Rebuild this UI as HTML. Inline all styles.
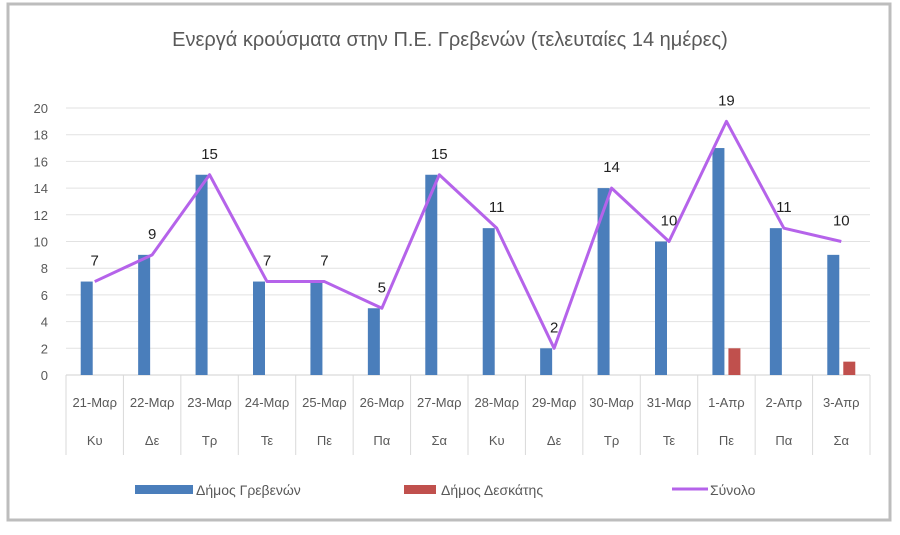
<!DOCTYPE html>
<html><head><meta charset="utf-8"><style>
body{margin:0;background:#fff;width:900px;height:530px;overflow:hidden;font-family:"Liberation Sans","DejaVu Sans",sans-serif}
</style></head><body>
<svg id="c" width="900" height="530" xmlns="http://www.w3.org/2000/svg">
<rect x="8" y="4" width="882" height="516" fill="#fff" stroke="#bdbdbd" stroke-width="3"/>
<text x="450" y="46" text-anchor="middle" font-size="20" fill="#595959">Ενεργά κρούσματα στην Π.Ε. Γρεβενών (τελευταίες 14 ημέρες)</text>
<g id="grid"></g><g id="bars"></g><g id="line"></g><g id="labels"></g><g id="axis"></g>
<g>
<rect x="135" y="485" width="58" height="9" fill="#4a7ebb"/>
<text x="196" y="495" font-size="14" fill="#595959">Δήμος Γρεβενών</text>
<rect x="404" y="485" width="32" height="9" fill="#c0504d"/>
<text x="441" y="495" font-size="14" fill="#595959">Δήμος Δεσκάτης</text>
<line x1="672" y1="489" x2="708" y2="489" stroke="#b563ea" stroke-width="3"/>
<text x="710" y="495" font-size="14" fill="#595959">Σύνολο</text>
</g>
</svg>
<script>
const dates=["21-Μαρ","22-Μαρ","23-Μαρ","24-Μαρ","25-Μαρ","26-Μαρ","27-Μαρ","28-Μαρ","29-Μαρ","30-Μαρ","31-Μαρ","1-Απρ","2-Απρ","3-Απρ"];
const days=["Κυ","Δε","Τρ","Τε","Πε","Πα","Σα","Κυ","Δε","Τρ","Τε","Πε","Πα","Σα"];
const grevena=[7,9,15,7,7,5,15,11,2,14,10,17,11,9];
const deskati=[0,0,0,0,0,0,0,0,0,0,0,2,0,1];
const total=[7,9,15,7,7,5,15,11,2,14,10,19,11,10];
const yTicks=[0,2,4,6,8,10,12,14,16,18,20];
const NS="http://www.w3.org/2000/svg";
const L=66,R=870,T=108,B=375,YMAX=20;
const bw=(R-L)/dates.length;
const y=v=>B-(B-T)*v/YMAX;
const cx=i=>L+bw*(i+0.5);
function mk(tag,attrs,parent,txt){const e=document.createElementNS(NS,tag);for(const k in attrs)e.setAttribute(k,attrs[k]);if(txt!==undefined)e.textContent=txt;document.getElementById(parent).appendChild(e);return e;}
yTicks.forEach(t=>{
  const g=mk('line',{x1:L,x2:R,y1:y(t),y2:y(t),stroke:t===0?'#d0d0d0':'#e2e2e2','stroke-width':1},'grid');
  
  
  const tx=mk('text',{x:L-18,y:y(t)+5,'text-anchor':'end','font-size':13,fill:'#595959'},'axis',t);
  
  
});
for(let i=0;i<=dates.length;i++){
  const s=mk('line',{x1:L+bw*i,x2:L+bw*i,y1:B,y2:455,stroke:'#d9d9d9'},'axis');
  
  
}
dates.forEach((d,i)=>{
  const a=mk('text',{x:cx(i),y:407,'text-anchor':'middle','font-size':13,fill:'#595959'},'axis',d);
  
  
  const b=mk('text',{x:cx(i),y:445,'text-anchor':'middle','font-size':13,fill:'#595959'},'axis',days[i]);
  
  
  const r1=mk('rect',{x:cx(i)-14,y:y(grevena[i]),width:12,height:B-y(grevena[i]),fill:'#4a7ebb'},'bars');
  
  
  if(deskati[i]>0){
    const r2=mk('rect',{x:cx(i)+2,y:y(deskati[i]),width:12,height:B-y(deskati[i]),fill:'#c0504d'},'bars');
    
    
  }
  const lb=mk('text',{x:cx(i),y:y(total[i])-16,'text-anchor':'middle','font-size':15,fill:'#222'},'labels',total[i]);
  
  
});
const pl=mk('polyline',{points:total.map((v,i)=>cx(i)+','+y(v)).join(' '),fill:'none',stroke:'#b563ea','stroke-width':3,'stroke-linejoin':'round'},'line');


</script>
</body></html>
